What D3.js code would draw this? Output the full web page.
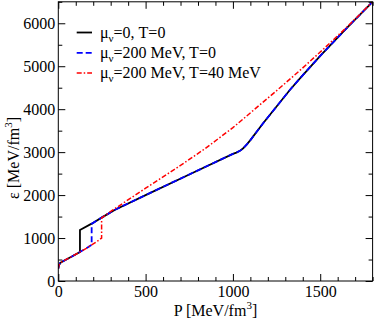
<!DOCTYPE html>
<html>
<head>
<meta charset="utf-8">
<script src="https://cdn.jsdelivr.net/npm/d3@7"></script>
<style>
  body { margin: 0; background: #fff; }
  svg text { font-family: "Liberation Serif", "Times New Roman", serif; }
</style>
</head>
<body>
<svg width="374" height="321"></svg>
<script>
'use strict'

const WIDTH = 374;
const HEIGHT = 321;
const margin = {top: 1.8, right: 1.4, bottom: 40, left: 58.3};

// mu_v = 0, T = 0
const blackP = [0, 3, 10, 20, 38, 80, 124, 124, 191, 248, 325, 500, 750, 1000, 1020, 1040, 1059, 1080, 1100, 1173, 1326, 1384, 1500, 1650, 1800];
const blackE = [290, 360, 415, 445, 485, 575, 675, 1187, 1335, 1475, 1660, 2000, 2480, 2960, 2990, 3030, 3090, 3180, 3280, 3672, 4447, 4719, 5240, 5880, 6500];

// mu_v = 200 MeV, T = 0
const blueP = [0, 3, 10, 20, 38, 80, 124, 160, 191, 191, 248, 325, 500, 750, 1000, 1020, 1040, 1059, 1080, 1100, 1173, 1326, 1384, 1500, 1650, 1800];
const blueE = [290, 360, 415, 445, 485, 575, 675, 760, 840, 1330, 1475, 1660, 2000, 2480, 2960, 2990, 3030, 3090, 3180, 3280, 3672, 4447, 4719, 5240, 5880, 6500];

// mu_v = 200 MeV, T = 40 MeV
const redP = [0, 3, 10, 20, 38, 80, 124, 160, 191, 220, 248, 248, 315, 500, 700, 840, 1000, 1250, 1383, 1500, 1650, 1800];
const redE = [290, 360, 415, 445, 485, 575, 675, 760, 840, 915, 1000, 1470, 1660, 2160, 2690, 3080, 3570, 4430, 4900, 5330, 5900, 6500];

const xMajor = [0, 500, 1000, 1500];
const yMajor = [0, 1000, 2000, 3000, 4000, 5000, 6000];

const series = [
  {name: 'v=0, T=0', P: blackP, E: blackE, color: '#000000', dash: null, width: 1.8},
  {name: 'v=200 MeV, T=0', P: blueP, E: blueE, color: '#0000ff', dash: '6,3', width: 1.8},
  {name: 'v=200 MeV, T=40 MeV', P: redP, E: redE, color: '#ff0000', dash: '5,2,1.5,2', width: 1.5}
];
const legendText = ['=0, T=0', '=200 MeV, T=0', '=200 MeV, T=40 MeV'];

const svg = d3.select('svg');
const x0 = margin.left, x1 = WIDTH - margin.right;
const y0 = HEIGHT - margin.bottom, y1 = margin.top;

let xScale = d3.scaleLinear().domain([0, 1800]).range([x0, x1]);
let yScale = d3.scaleLinear().domain([0, 6500]).range([y0, y1]);

svg.append('clipPath').attr('id', 'clip')
  .append('rect')
  .attr('x', x0).attr('y', y1)
  .attr('width', x1 - x0).attr('height', y0 - y1);

const line = d3.line()
  .x(d => xScale(d[0]))
  .y(d => yScale(d[1]));

series.forEach(s => {
  svg.append('path')
    .datum(s.P.map((p, i) => [p, s.E[i]]))
    .attr('clip-path', 'url(#clip)')
    .attr('fill', 'none')
    .attr('stroke', s.color)
    .attr('stroke-width', s.width)
    .attr('stroke-dasharray', s.dash)
    .attr('d', line);
});

// axes, ticks pointing inward on all four sides
function styleAxis(g) {
  g.select('.domain').remove();
  g.selectAll('line').attr('stroke', '#000').attr('stroke-width', 1);
  g.selectAll('text').attr('font-size', 16).attr('fill', '#000')
    .attr('font-family', '"Liberation Serif", serif');
}

const xMinor = d3.range(0, 1801, 100).filter(v => v % 500 !== 0);
const yMinor = d3.range(500, 6501, 1000);

svg.append('g').attr('transform', `translate(0,${y0})`)
  .call(d3.axisBottom(xScale).tickValues(xMajor).tickSize(-7).tickPadding(5).tickFormat(d3.format('d')))
  .call(styleAxis);
svg.append('g').attr('transform', `translate(0,${y0})`)
  .call(d3.axisBottom(xScale).tickValues(xMinor).tickSize(-4).tickFormat(''))
  .call(styleAxis);
svg.append('g').attr('transform', `translate(0,${y1})`)
  .call(d3.axisTop(xScale).tickValues(xMajor).tickSize(-7).tickFormat(''))
  .call(styleAxis);
svg.append('g').attr('transform', `translate(0,${y1})`)
  .call(d3.axisTop(xScale).tickValues(xMinor).tickSize(-4).tickFormat(''))
  .call(styleAxis);

svg.append('g').attr('transform', `translate(${x0},0)`)
  .call(d3.axisLeft(yScale).tickValues(yMajor).tickSize(-7).tickPadding(3).tickFormat(d3.format('d')))
  .call(styleAxis);
svg.append('g').attr('transform', `translate(${x0},0)`)
  .call(d3.axisLeft(yScale).tickValues(yMinor).tickSize(-4).tickFormat(''))
  .call(styleAxis);
svg.append('g').attr('transform', `translate(${x1},0)`)
  .call(d3.axisRight(yScale).tickValues(yMajor).tickSize(-7).tickFormat(''))
  .call(styleAxis);
svg.append('g').attr('transform', `translate(${x1},0)`)
  .call(d3.axisRight(yScale).tickValues(yMinor).tickSize(-4).tickFormat(''))
  .call(styleAxis);

svg.append('rect')
  .attr('x', x0).attr('y', y1)
  .attr('width', x1 - x0).attr('height', y0 - y1)
  .attr('fill', 'none').attr('stroke', '#000').attr('stroke-width', 1);

// axis titles
const xt = svg.append('text')
  .attr('x', (x0 + x1) / 2).attr('y', 316)
  .attr('text-anchor', 'middle').attr('font-size', 16);
xt.append('tspan').text('P [MeV/fm');
xt.append('tspan').attr('dy', -7).attr('font-size', 11).text('3');
xt.append('tspan').attr('dy', 7).text(']');

const yt = svg.append('text')
  .attr('transform', 'translate(19,158) rotate(-90)')
  .attr('text-anchor', 'middle').attr('font-size', 16);
yt.append('tspan').text('ε [MeV/fm');
yt.append('tspan').attr('dy', -7).attr('font-size', 11).text('3');
yt.append('tspan').attr('dy', 7).text(']');

// legend
const legend = svg.append('g');
series.forEach((s, i) => {
  const ly = 32.5 + i * 20.3;
  legend.append('line')
    .attr('x1', 76.7).attr('x2', 92)
    .attr('y1', ly).attr('y2', ly)
    .attr('stroke', s.color).attr('stroke-width', s.width)
    .attr('stroke-dasharray', s.dash);
  const t = legend.append('text')
    .attr('x', 100).attr('y', ly + 5)
    .attr('font-size', 16);
  t.append('tspan').text('μ');
  t.append('tspan').attr('dy', 4).attr('font-size', 11).text('ν');
  t.append('tspan').attr('dy', -4).text(legendText[i]);
});
</script>
</body>
</html>
